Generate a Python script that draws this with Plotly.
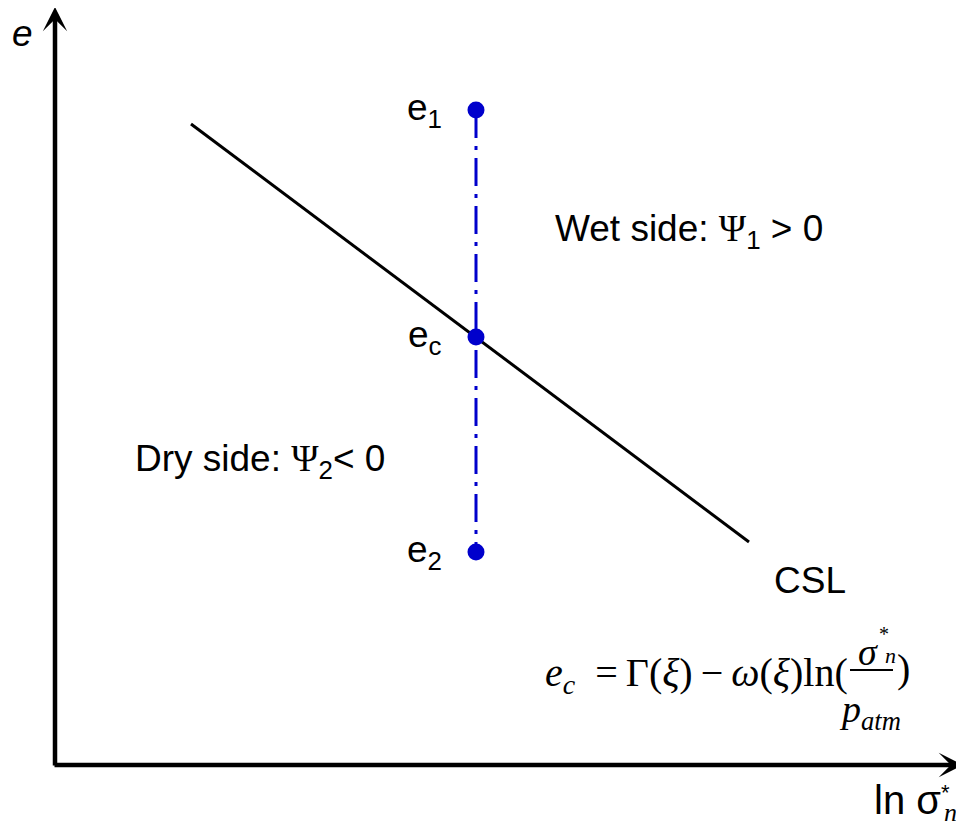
import plotly.graph_objects as go

# ---- data (schematic units: x = ln sigma*_n, y = void ratio e) ----
csl_x = [1.36, 6.94]
csl_e = [6.41, 2.23]
state_x = [4.21, 4.21, 4.21]
state_e = [6.55, 4.28, 2.13]
state_labels = ["e<sub>1</sub>", "e<sub>c</sub>", "e<sub>2</sub>"]

BLUE = "#0000CC"
SANS = "Liberation Sans, Arial, sans-serif"
SERIF = "Liberation Serif, Times New Roman, serif"

fig = go.Figure()

# critical state line
fig.add_trace(go.Scatter(x=csl_x, y=csl_e, mode="lines",
                         line=dict(color="black", width=3), hoverinfo="skip"))
# vertical dash-dot path
fig.add_trace(go.Scatter(x=[state_x[0], state_x[-1]], y=[state_e[0], state_e[-1]], mode="lines",
                         line=dict(color=BLUE, width=3, dash="28px,8px,4px,8px"), hoverinfo="skip"))
# state points
fig.add_trace(go.Scatter(x=state_x, y=state_e, mode="markers",
                         marker=dict(color=BLUE, size=17), hoverinfo="skip"))

ann = []
# axes arrows
ann.append(dict(x=9.08, y=0, ax=-0.02, ay=0, xref="x", yref="y", axref="x", ayref="y",
                showarrow=True, arrowhead=3, arrowwidth=4.5, arrowsize=0.9, arrowcolor="black", text=""))
ann.append(dict(x=0, y=7.58, ax=0, ay=-0.02, xref="x", yref="y", axref="x", ayref="y",
                showarrow=True, arrowhead=3, arrowwidth=4.5, arrowsize=0.9, arrowcolor="black", text=""))

def label(x, y, text, size=37, family=SANS, xanchor="left", yanchor="middle"):
    ann.append(dict(x=x, y=y, xref="x", yref="y", text=text, showarrow=False,
                    xanchor=xanchor, yanchor=yanchor,
                    font=dict(family=family, size=size, color="black")))

label(-0.33, 7.32, "<i>e</i>", xanchor="center")
for sx, se, lab in zip(state_x, state_e, state_labels):
    label(sx - 0.32, se, lab, xanchor="right")

psi = '<span style="font-family:Liberation Serif">Ψ</span>'
label(4.98, 5.34, "Wet side: " + psi + "<sub>1</sub> > 0")
label(0.78, 3.04, "Dry side: " + psi + "<sub>2</sub>< 0")
label(7.17, 1.85, "CSL")

# x-axis title: ln sigma*_n
label(8.17, -0.35, "ln σ", size=40)
label(8.90, -0.27, "*", size=22, xanchor="center")
label(8.95, -0.47, "<i>n</i>", size=26, family=SERIF, xanchor="center")

# equation e_c = Gamma(xi) - omega(xi) ln(sigma*_n / p_atm)
label(7.95, 0.90,
      "<i>e</i><sub><i>c</i></sub>\u00a0\u00a0=\u2009Γ(<i>ξ</i>)\u2009−\u2009<i>ω</i>(<i>ξ</i>)ln(",
      size=40, family=SERIF, xanchor="right")
label(8.13, 1.13, "<i>σ</i>", size=38, family=SERIF, xanchor="center")
label(8.29, 1.31, "*", size=20, family=SERIF, xanchor="center")
label(8.35, 1.10, "<i>n</i>", size=22, family=SERIF, xanchor="center")
label(8.15, 0.53, "<i>p</i><sub><i>atm</i></sub>", size=38, family=SERIF, xanchor="center")
label(8.48, 0.97, ")", size=40, family=SERIF, xanchor="center")

fig.add_shape(type="line", x0=7.95, x1=8.38, y0=0.95, y1=0.95, xref="x", yref="y",
              line=dict(color="black", width=2))

# page body has an 8px margin: ranges are offset so the drawing sits where intended
fig.update_layout(
    width=964, height=832, margin=dict(l=0, r=0, t=0, b=0),
    paper_bgcolor="white", plot_bgcolor="white", showlegend=False,
    xaxis=dict(range=[-0.47, 9.17], visible=False, fixedrange=True),
    yaxis=dict(range=[-0.75, 7.57], visible=False, fixedrange=True),
    annotations=ann,
)

fig.write_html("out.html")
